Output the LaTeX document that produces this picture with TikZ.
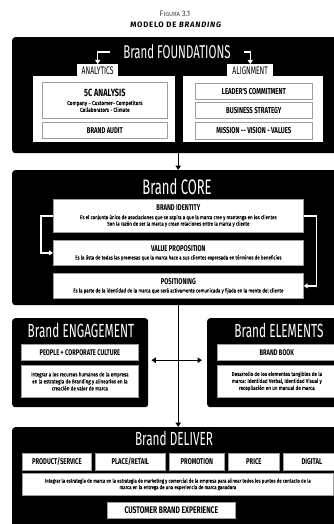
\documentclass[tikz,border=0pt]{standalone}
\usepackage{fontspec}
\setmainfont{Fira Sans}[FakeStretch=0.82, FakeBold=0.18]
\newfontfamily\ttlfont{Fira Sans}[FakeStretch=0.62]
\newfontfamily\lblfont{Fira Sans}[FakeStretch=0.7]
\newfontfamily\headfont{Fira Sans}[LetterSpace=10]
\newfontfamily\figfont{Fira Sans}
\usetikzlibrary{arrows.meta}

% box given by its corners (x1,y1)-(x2,y2), y growing downwards
\newcommand\pbox[7]{\node[#1, anchor=north west, minimum width={(#5-#3)*1pt},
  minimum height={(#6-#4)*1pt}] (#2) at (#3,#4) {#7};}
% bold heading line inside a box
\newcommand\lb[2]{{\lblfont\bfseries\fontsize{#1}{#1}\selectfont #2}}

\tikzset{
  blk/.style={fill=black, draw=none, rounded corners=3pt, inner sep=0pt},
  panel/.style={fill=white, draw=none, inner sep=0pt},
  tabbox/.style={fill=white, draw=none, inner sep=0pt, font=\ttlfont\fontsize{11}{11}\selectfont},
  ibox/.style={fill=white, draw=black!38, line width=0.7pt, inner sep=1pt, align=center},
  lbl/.style={font=\lblfont\bfseries\fontsize{#1}{#1}\selectfont},
  dsc/.style 2 args={font=\fontsize{#1}{#2}\selectfont},
  ttl/.style={text=white, inner sep=0pt, font=\ttlfont\fontsize{#1}{#1}\selectfont},
  warr/.style={draw=white, line width=1.3pt, -{Triangle[length=4pt,width=5pt]}},
  karr/.style={draw=black, line width=1.4pt, -{Triangle[length=4.5pt,width=5.5pt]}},
  karrb/.style={draw=black, line width=1.4pt, {Triangle[length=4.5pt,width=5.5pt]}-{Triangle[length=4.5pt,width=5.5pt]}},
}

\begin{document}
\begin{tikzpicture}[x=1pt,y=-1pt]
\useasboundingbox (0,0) rectangle (334,524);
\clip (0,0) rectangle (334,524);

% heading
\node[text=black!75, inner sep=0pt] (fig) at (175,14)
  {\figfont\fontsize{8}{8}\selectfont F\fontsize{6}{6}\selectfont IGURA \fontsize{8}{8}\selectfont 3.1};
\node[inner sep=0pt] (head) at (176,25)
  {\headfont\bfseries\fontsize{7.8}{8}\selectfont MODELO DE \textit{BRANDING}};

% ---------- Brand FOUNDATIONS ----------
\pbox{blk}{found}{12}{37}{344}{153}{}
\node[ttl=18.5] (foundT) at (177,52) {Brand FOUNDATIONS};
\pbox{panel}{anaP}{33}{76}{175}{142}{}
\pbox{panel}{aliP}{183}{76}{323}{142}{}
\pbox{tabbox}{anaTab}{77}{64}{118}{77}{ANALYTICS}
\pbox{tabbox}{aliTab}{227}{64}{273}{77}{ALIGNMENT}
\pbox{ibox, dsc={5.8}{6.8}}{fiveC}{42}{82}{167}{118}{\lb{10.5}{5C ANALYSIS}\\[2pt]
  Company -- Customer-- Competitors\\ Collaborators - Climate}
\pbox{ibox, lbl=8.4}{audit}{42}{122}{167}{138}{BRAND AUDIT}
\pbox{ibox, lbl=8.6}{leader}{195}{83}{312}{99}{LEADER'S COMMITMENT}
\pbox{ibox, lbl=8.6}{strat}{195}{102}{312}{118}{BUSINESS STRATEGY}
\pbox{ibox, lbl=8.6}{mission}{195}{122}{312}{139}{MISSION -- VISION - VALUES}
\draw[warr] ([xshift=-13pt]foundT.west) -| (anaTab.north);
\draw[warr] ([xshift=13pt]foundT.east) -| (aliTab.north);

% ---------- Brand CORE ----------
\pbox{blk}{core}{12}{170}{344}{305}{}
\node[ttl=21] (coreT) at (177,187) {Brand CORE};
\pbox{ibox, dsc={5.4}{6.4}}{ident}{53}{199}{303}{232}{\lb{8.4}{BRAND IDENTITY}\\[2pt]
  Es el conjunto único de asociaciones que se aspira a que la marca cree y mantenga en los clientes\\
  Son la razón de ser la marca y crean relaciones entre la marca y cliente}
\pbox{ibox, dsc={5.4}{6.4}}{vp}{53}{240}{303}{265}{\lb{8.4}{VALUE PROPOSITION}\\[2pt]
  Es la lista de todas las promesas que la marca hace a sus clientes expresada en términos de beneficios}
\pbox{ibox, dsc={5.4}{6.4}}{pos}{53}{273}{303}{298}{\lb{8.4}{POSITIONING}\\[2pt]
  Es la parte de la identidad de la marca que será activamente comunicada y fijada en la mente del cliente}
\draw[warr] (ident.west) -- ++(-12,0) |- (vp.west);
\draw[warr] (ident.east) -- ++(13,0) |- (pos.east);
\draw[karr] (found.south) -- (core.north);

% ---------- Brand ENGAGEMENT / ELEMENTS ----------
\pbox{blk}{eng}{12}{318}{148}{407}{}
\node[ttl=19] (engT) at (81,330) {Brand ENGAGEMENT};
\pbox{ibox, lbl=8.2}{people}{21}{344}{138}{360}{PEOPLE + CORPORATE CULTURE}
\pbox{ibox, dsc={5.6}{7}}{engD}{21}{365}{138}{397}{Integrar a los  recursos humanos de la empresa\\
  en la estrategia de Branding y alinearlos en la\\ creación de valor de marca}

\pbox{blk}{ele}{207}{318}{346}{407}{}
\node[ttl=19] (eleT) at (279,330) {Brand ELEMENTS};
\pbox{ibox, lbl=8.2}{book}{217}{344}{336}{360}{BRAND BOOK}
\pbox{ibox, dsc={5.6}{7}}{eleD}{217}{365}{336}{397}{Desarrollo de los elementos tangibles de la\\
  marca: Identidad Verbal, Identidad Visual y\\ recopilación en un manual de marca}

\draw[karrb, shorten <=3pt, shorten >=5pt] ([yshift=2.5pt]eng.east) -- ([yshift=2.5pt]ele.west);

% ---------- Brand DELIVER ----------
\pbox{blk}{deliv}{12}{427}{344}{540}{}
\node[ttl=19] (delT) at (174,438) {Brand DELIVER};
\pbox{ibox, lbl=8.4}{prod}{22}{453}{91}{470}{PRODUCT/SERVICE}
\pbox{ibox, lbl=8.4}{place}{95}{453}{165}{470}{PLACE/RETAIL}
\pbox{ibox, lbl=8.4}{promo}{169}{453}{224}{470}{PROMOTION}
\pbox{ibox, lbl=8.4}{price}{228}{453}{279}{470}{PRICE}
\pbox{ibox, lbl=8.4}{digital}{283}{453}{340}{470}{DIGITAL}
\pbox{ibox, dsc={5.3}{6.5}}{delD}{22}{473}{333}{495}{Integrar la estrategia de marca en la estrategia de marketing y comercial de la empresa para alinear todos los puntos de contacto de la\\
  marca en la entrega de una experiencia de marca ganadora}
\pbox{ibox, lbl=9.6}{cbe}{107}{502}{235}{518}{CUSTOMER BRAND EXPERIENCE}

\draw[karr] (core.south) -- (deliv.north);
\end{tikzpicture}
\end{document}
